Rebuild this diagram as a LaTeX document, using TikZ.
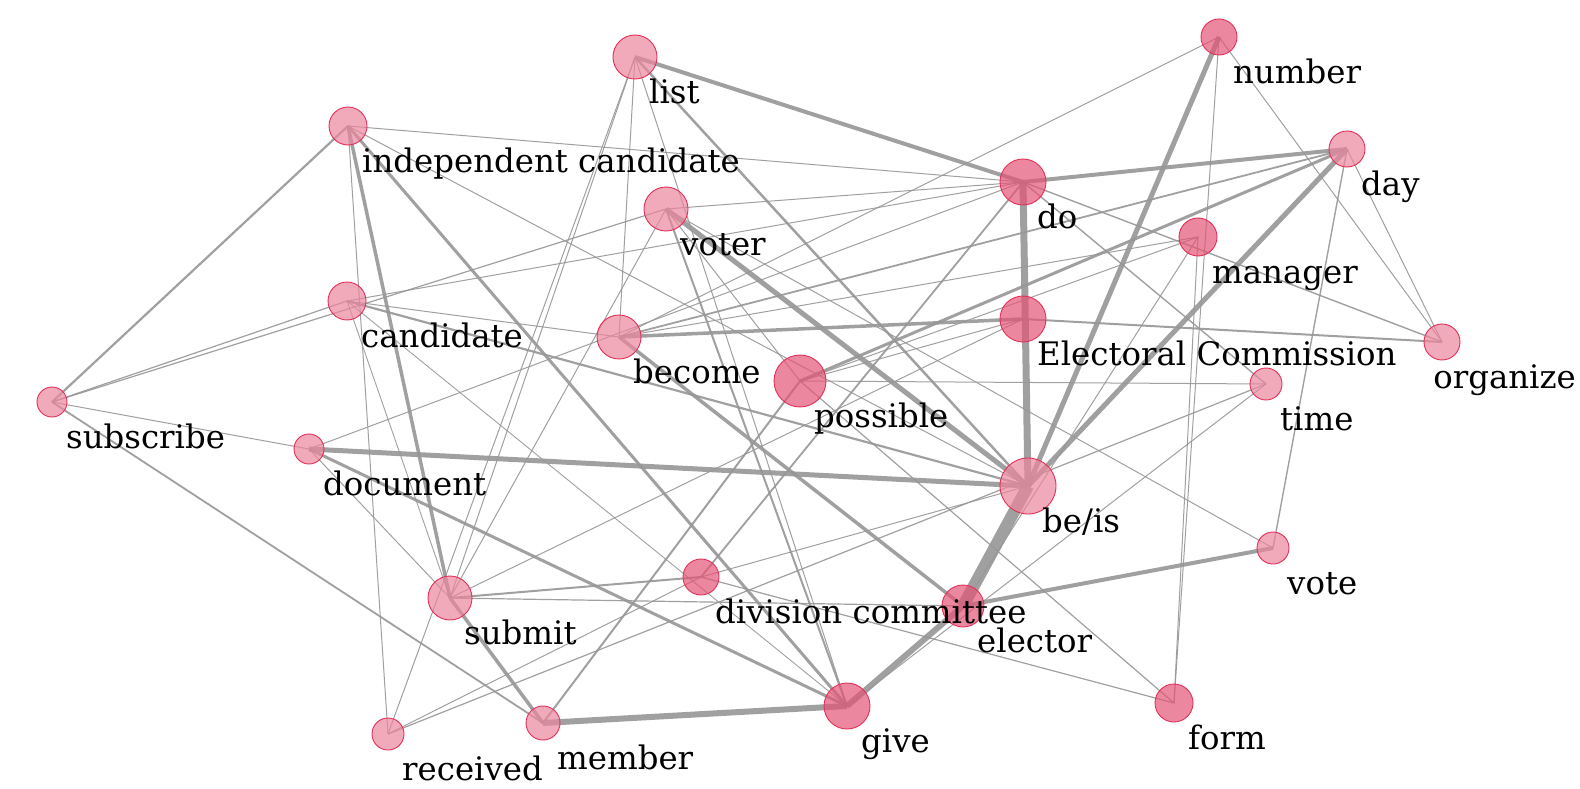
\documentclass[tikz,border=0pt]{standalone}
\usepackage{fontspec}
\setmainfont{DejaVu Serif}
\definecolor{nodelight}{RGB}{235,134,156}
\definecolor{nodedark}{RGB}{227,84,117}
\definecolor{noderim}{RGB}{226,48,88}
\definecolor{edgegray}{RGB}{150,150,150}
\tikzset{
  wnode/.style={circle,draw=noderim,line width=0.9pt,fill=nodelight,fill opacity=0.7,inner sep=0pt},
  dnode/.style={wnode,fill=nodedark},
  lbl/.style={inner sep=0pt,font=\fontsize{32.4}{36}\selectfont,text=black},
  edge/.style={draw=edgegray,draw opacity=0.9,line width=#1},
  edge/.default=0.9pt
}
\begin{document}
\begin{tikzpicture}[x=1pt,y=-1pt]
\useasboundingbox (0,0) rectangle (1580,789);
% coordinates
\coordinate (L) at (635,57);
\coordinate (N) at (1219,37);
\coordinate (IC) at (348,126);
\coordinate (DY) at (1347,149);
\coordinate (DO) at (1023,182);
\coordinate (VR) at (666,209);
\coordinate (MG) at (1198,237);
\coordinate (CA) at (347,301);
\coordinate (BE) at (619,337);
\coordinate (EC) at (1023,319);
\coordinate (OR) at (1442,342);
\coordinate (PO) at (800,381);
\coordinate (TI) at (1266,384);
\coordinate (SU) at (52,402);
\coordinate (DOC) at (309,449);
\coordinate (BI) at (1028,486);
\coordinate (VO) at (1273,548);
\coordinate (DC) at (701,577);
\coordinate (SM) at (450,598);
\coordinate (EL) at (963,606);
\coordinate (RC) at (388,734);
\coordinate (ME) at (543,723);
\coordinate (GI) at (847,706);
\coordinate (FO) at (1174,703);
% edges
\foreach \a/\b/\w in {
 BI/EL/12, DO/BI/7, EL/GI/6, ME/GI/6,
 DOC/BI/5, VR/BI/5, N/BI/5, DY/BI/5,
 DO/DY/4, L/DO/4, BE/EC/3.5, IC/SM/3.5, SM/ME/3.5, BE/EL/3.5, IC/GI/3, VO/EL/4,
 EC/OR/2, PO/DY/3, SU/IC/2.2, L/BI/2.5, CA/BI/2.2, SU/ME/1.8, BE/DY/1.8, DOC/GI/3,
 PO/ME/2, VR/GI/2, SM/DC/2, DC/DO/1.8,
 SU/DOC/1, SU/CA/1.2, SU/VR/1.2, IC/DO/1, IC/RC/1, IC/BI/1, L/SM/1, L/RC/1, L/BE/1, L/GI/1,
 CA/DO/1, CA/BE/1, CA/GI/0.9, CA/SM/0.9, DOC/DO/1, DOC/SM/1, VR/DO/1, VR/VO/1, VR/PO/1, VR/SM/1,
 PO/TI/1, PO/EC/1, PO/MG/1, BE/MG/1, SM/EC/1, DC/BI/1,
 N/BE/1, N/OR/1, N/FO/1, MG/FO/1,
 DY/OR/1, DY/VO/1.4, DO/OR/1.4, DO/TI/1.4, MG/EL/1, FO/PO/1.2, FO/DC/1.2, SM/EL/1.2,
 RC/DC/1, TI/GI/1, TI/RC/1.2}
 {\draw[edge=\w pt] (\a) -- (\b);}
% nodes
\node[wnode,minimum size=44pt] (nL) at (L) {};
\node[dnode,minimum size=36pt] (nN) at (N) {};
\node[wnode,minimum size=38pt] (nIC) at (IC) {};
\node[wnode,minimum size=36pt] (nDY) at (DY) {};
\node[dnode,minimum size=46pt] (nDO) at (DO) {};
\node[wnode,minimum size=44pt] (nVR) at (VR) {};
\node[dnode,minimum size=38pt] (nMG) at (MG) {};
\node[wnode,minimum size=38pt] (nCA) at (CA) {};
\node[wnode,minimum size=44pt] (nBE) at (BE) {};
\node[dnode,minimum size=46pt] (nEC) at (EC) {};
\node[wnode,minimum size=36pt] (nOR) at (OR) {};
\node[dnode,minimum size=52pt] (nPO) at (PO) {};
\node[wnode,minimum size=32pt] (nTI) at (TI) {};
\node[wnode,minimum size=30pt] (nSU) at (SU) {};
\node[wnode,minimum size=30pt] (nDOC) at (DOC) {};
\node[wnode,minimum size=56pt] (nBI) at (BI) {};
\node[wnode,minimum size=32pt] (nVO) at (VO) {};
\node[dnode,minimum size=36pt] (nDC) at (DC) {};
\node[wnode,minimum size=44pt] (nSM) at (SM) {};
\node[dnode,minimum size=42pt] (nEL) at (EL) {};
\node[wnode,minimum size=32pt] (nRC) at (RC) {};
\node[wnode,minimum size=34pt] (nME) at (ME) {};
\node[dnode,minimum size=46pt] (nGI) at (GI) {};
\node[dnode,minimum size=38pt] (nFO) at (FO) {};
% labels
\foreach \c/\t in {L/list, N/number, IC/independent candidate, DY/day, DO/do, VR/voter,
  MG/manager, CA/candidate, BE/become, EC/Electoral Commission, PO/possible,
  TI/time, SU/subscribe, DOC/document, BI/be\slash is, VO/vote, DC/division committee,
  SM/submit, EL/elector, RC/received, ME/member, GI/give, FO/form}
 {\node[lbl,anchor=base west] (t\c) at ([shift={(14,46.5)}]\c) {\t};}
\node[lbl,anchor=base east] (tOR) at (1576,388.5) {organize};
\end{tikzpicture}
\end{document}
